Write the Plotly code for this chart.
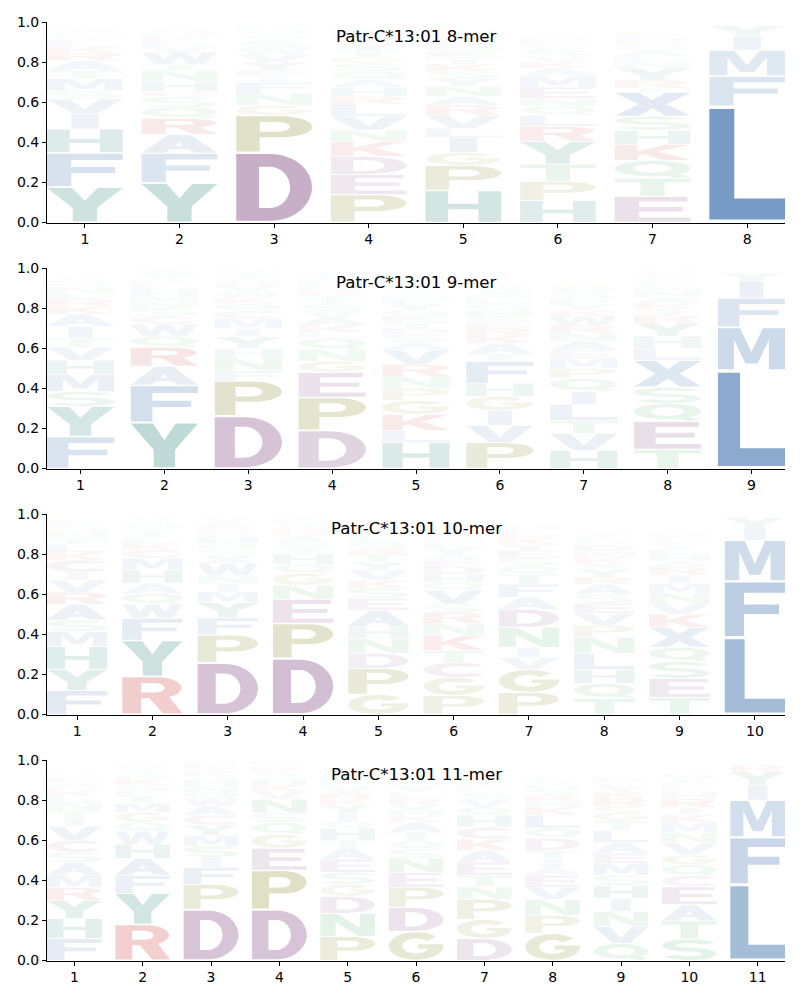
import numpy as np
import plotly.graph_objects as go

# ---------------- data ----------------
TITLES = ["Patr-C*13:01 8-mer", "Patr-C*13:01 9-mer",
          "Patr-C*13:01 10-mer", "Patr-C*13:01 11-mer"]

# letters listed bottom -> top for every position, with their heights
SEQ_8 = ["YFHIVSMTARKLNQWGEPCD", "YFARQSCHNTWVLKMEGI", "DPGNFIEYVWSTAQKRHML",
         "PEDKNVLRHAQSGTYIMFWC", "HPGILVRANYSKTEQDMFWC", "HPTYRLQNEMAKVSFGDWIC",
         "ETQKHSXIRYNLAMGDFP", "LFMIYV"]
H_8 = [[.177, .17, .12, .075, .075, .04, .06, .04, .05, .04, .03, .03, .02, .02, .02, .01, .01, .01, .005, .005],
       [.197, .148, .095, .08, .055, .05, .03, .05, .055, .03, .06, .03, .03, .02, .02, .01, .01, .01],
       [.35, .185, .05, .06, .055, .03, .03, .04, .04, .03, .03, .02, .02, .02, .01, .01, .01, .01, .01],
       [.14, .1, .09, .075, .055, .07, .06, .04, .045, .04, .04, .04, .035, .03, .03, .03, .02, .02, .01, .01],
       [.16, .125, .065, .075, .045, .065, .05, .045, .05, .04, .035, .035, .03, .03, .03, .025, .02, .02, .01, .01],
       [.11, .095, .085, .115, .075, .055, .045, .04, .055, .055, .04, .03, .03, .03, .02, .02, .02, .01, .01, .01],
       [.13, .09, .09, .08, .07, .07, .12, .02, .04, .06, .03, .03, .03, .02, .02, .02, .02, .01],
       [.58, .15, .13, .07, .05, .01]]

SEQ_9 = ["FYSMHVTIAKRLNQECGW", "YFARQWCSNMHLKTVIE", "DPFNHYIMCQKWVRSTEA",
         "DPEGNQLKAVSTYRHMFIW", "HLKGPNRVASDTEQYFMIWC", "PVIGHFTAKRESNQLMYDW",
         "HVTLIQPMEANRWKYFSDGC", "TEQSXLHYRIKANMFGPV", "LMFIYV"]
H_9 = [[.16, .15, .075, .085, .07, .065, .045, .06, .06, .04, .035, .03, .03, .02, .015, .01, .01, .01],
       [.23, .185, .095, .095, .055, .06, .04, .04, .03, .03, .03, .03, .02, .02, .02, .01, .01],
       [.262, .175, .05, .065, .045, .06, .04, .05, .04, .035, .03, .03, .03, .02, .02, .02, .015, .01],
       [.19, .165, .125, .055, .06, .055, .03, .035, .04, .03, .03, .03, .025, .02, .02, .02, .02, .02, .01],
       [.13, .06, .08, .07, .06, .06, .06, .07, .04, .04, .03, .03, .03, .03, .03, .03, .02, .02, .01, .02],
       [.13, .085, .075, .07, .065, .11, .04, .05, .04, .035, .03, .03, .03, .03, .03, .02, .02, .02, .01],
       [.09, .085, .065, .08, .065, .065, .05, .05, .04, .045, .04, .04, .045, .03, .03, .03, .03, .02, .02, .01],
       [.095, .14, .09, .08, .135, .06, .06, .065, .04, .03, .03, .03, .03, .02, .02, .02, .02, .02],
       [.49, .215, .145, .085, .04, .01]]

SEQ_10 = ["FYHMSARVICKLTNQEWGP", "RYFWQAHMCKLTVNIS", "DPFYMINWXSQHEKRAVLT",
          "DPENGQHTSAKRVLYMF", "GPDNHAESKVYTRQLMFIWC", "PGCTKNRSVQHDEAYLMFIW",
          "PGVINDAFTQSEYKRLHM", "TQHLNPVESARYXKMDGFIW", "TESQXKVNMIRAHLYFGDPW", "LFMIYV"]
H_10 = [[.12, .105, .115, .075, .055, .08, .06, .06, .04, .06, .04, .04, .03, .03, .02, .02, .02, .01, .01],
        [.19, .18, .11, .07, .055, .05, .065, .06, .04, .03, .03, .03, .02, .02, .02, .02],
        [.258, .14, .085, .075, .055, .04, .04, .06, .04, .03, .03, .03, .02, .02, .02, .02, .02, .01, .01],
        [.28, .175, .12, .07, .06, .045, .05, .03, .03, .03, .02, .02, .02, .02, .01, .01, .01],
        [.1, .13, .075, .075, .06, .08, .06, .05, .04, .05, .04, .04, .03, .03, .03, .02, .02, .02, .01, .01],
        [.095, .09, .075, .06, .075, .06, .055, .04, .07, .04, .04, .04, .03, .03, .03, .03, .02, .02, .02, .01],
        [.11, .115, .06, .05, .1, .09, .06, .065, .05, .04, .04, .04, .03, .03, .02, .02, .02, .01],
        [.08, .075, .07, .08, .08, .06, .06, .05, .045, .05, .035, .04, .03, .03, .03, .03, .02, .02, .02, .01],
        [.085, .095, .085, .07, .1, .065, .055, .05, .05, .04, .04, .03, .03, .03, .02, .02, .02, .02, .01, .01],
        [.385, .28, .205, .06, .05, .01]]

SEQ_11 = ["FHYRMASCVITNLKQWEGPD", "RYFAHWQGMILSKNTVEC", "DPFISMYCAWQNHVKTERL",
          "DPEGQSNVKHTARYLM", "PNDGSEATHQIYKRVLMFCW", "GDPENSQTAKHVRLYMFICW",
          "DGPNTEAKCHQVSLRYMIFW", "GPNVEAITDQLKMRSHYFW", "QVNIHSMEALTGCRKYFDPW",
          "STAECQGVNMKIRHLFYDPW", "LFMIYR"]
H_11 = [[.11, .1, .09, .065, .06, .065, .05, .06, .07, .04, .04, .04, .03, .03, .02, .02, .02, .01, .01, .01],
        [.18, .155, .09, .085, .07, .065, .045, .05, .045, .03, .03, .03, .03, .02, .02, .02, .01, .01],
        [.255, .125, .085, .05, .055, .055, .05, .05, .045, .04, .03, .03, .03, .02, .02, .02, .02, .01, .01],
        [.255, .195, .11, .07, .06, .045, .07, .04, .03, .03, .02, .02, .02, .01, .01, .01],
        [.12, .115, .085, .06, .06, .065, .055, .04, .06, .035, .04, .04, .03, .03, .03, .02, .02, .02, .01, .01],
        [.145, .12, .1, .075, .07, .045, .04, .045, .05, .03, .03, .03, .03, .03, .03, .02, .02, .02, .01, .01],
        [.11, .095, .1, .065, .055, .065, .06, .055, .06, .06, .04, .04, .03, .02, .02, .02, .02, .02, .01, .01],
        [.135, .09, .08, .06, .06, .04, .04, .045, .06, .05, .065, .04, .03, .03, .03, .02, .02, .02, .01],
        [.085, .085, .075, .065, .065, .05, .06, .05, .055, .06, .045, .045, .03, .04, .03, .03, .02, .02, .01, .01],
        [.108, .09, .08, .09, .055, .055, .05, .06, .05, .05, .04, .035, .045, .03, .03, .02, .02, .02, .01, .01],
        [.38, .235, .185, .075, .065, .035]]

PANELS = [(SEQ_8, H_8), (SEQ_9, H_9), (SEQ_10, H_10), (SEQ_11, H_11)]

# ---------------- styles ----------------
BLUE = (70, 119, 175)
PURPLE = (131, 75, 131)
LAVENDER = (150, 85, 140)
OLIVE = (128, 128, 30)
TEAL = (35, 128, 115)
RED = (200, 50, 50)
GREEN = (60, 170, 90)
COLORS = {}
for c in "AFILMVWX":
    COLORS[c] = BLUE
for c in "DE":
    COLORS[c] = PURPLE
COLORS["C"] = LAVENDER
for c in "PG":
    COLORS[c] = OLIVE
for c in "YH":
    COLORS[c] = TEAL
for c in "RK":
    COLORS[c] = RED
for c in "NQST":
    COLORS[c] = GREEN
ALPHA_K = 1.27


# ---------------- glyph outlines (unit box) ----------------
def arc(cx, cy, rx, ry, a0, a1, n=30):
    t = np.radians(np.linspace(a0, a1, n))
    return [(cx + rx * np.cos(a), cy + ry * np.sin(a)) for a in t]


def sarea(p):
    a = 0.0
    for i in range(len(p)):
        x1, y1 = p[i]
        x2, y2 = p[(i + 1) % len(p)]
        a += x1 * y2 - x2 * y1
    return a / 2


def build_glyphs():
    g = {}
    g["A"] = [([(0, 0), (0.36, 1), (0.64, 1), (1, 0), (0.7, 0), (0.62, 0.2), (0.38, 0.2), (0.3, 0)], False),
              ([(0.44, 0.37), (0.56, 0.37), (0.5, 0.62)], True)]
    g["C"] = [(arc(0.5, 0.5, 0.5, 0.5, 42, 318) + arc(0.5, 0.5, 0.24, 0.27, 318, 42), False)]
    g["G"] = [(arc(0.5, 0.5, 0.5, 0.5, 42, 355) + [(1, 0.56), (0.54, 0.56), (0.54, 0.4), (0.73, 0.4)]
               + arc(0.5, 0.5, 0.25, 0.27, 340, 42), False)]
    g["D"] = [([(0, 0), (0, 1), (0.45, 1)] + arc(0.45, 0.5, 0.55, 0.5, 90, -90) + [(0.45, 0)], False),
              ([(0.3, 0.19), (0.44, 0.19)] + arc(0.44, 0.5, 0.27, 0.31, -90, 90) + [(0.3, 0.81)], True)]
    g["E"] = [([(0, 0), (0, 1), (0.96, 1), (0.96, 0.82), (0.32, 0.82), (0.32, 0.6), (0.9, 0.6), (0.9, 0.42),
                (0.32, 0.42), (0.32, 0.18), (1, 0.18), (1, 0)], False)]
    g["F"] = [([(0, 0), (0, 1), (1, 1), (1, 0.81), (0.32, 0.81), (0.32, 0.59), (0.9, 0.59), (0.9, 0.41),
                (0.32, 0.41), (0.32, 0)], False)]
    g["H"] = [([(0, 0), (0, 1), (0.3, 1), (0.3, 0.59), (0.7, 0.59), (0.7, 1), (1, 1), (1, 0), (0.7, 0),
                (0.7, 0.41), (0.3, 0.41), (0.3, 0)], False)]
    g["I"] = [([(0.32, 0), (0.68, 0), (0.68, 1), (0.32, 1)], False)]
    g["K"] = [([(0, 0), (0, 1), (0.3, 1), (0.3, 0.56), (0.66, 1), (1, 1), (0.58, 0.55), (1, 0), (0.64, 0),
                (0.38, 0.38), (0.3, 0.3), (0.3, 0)], False)]
    g["L"] = [([(0, 0), (0, 1), (0.33, 1), (0.33, 0.19), (1, 0.19), (1, 0)], False)]
    g["M"] = [([(0, 0), (0, 1), (0.33, 1), (0.5, 0.42), (0.67, 1), (1, 1), (1, 0), (0.76, 0), (0.76, 0.72),
                (0.59, 0.14), (0.41, 0.14), (0.24, 0.72), (0.24, 0)], False)]
    g["N"] = [([(0, 0), (0, 1), (0.3, 1), (0.72, 0.38), (0.72, 1), (1, 1), (1, 0), (0.7, 0), (0.28, 0.62),
                (0.28, 0)], False)]
    g["P"] = [([(0, 0), (0, 1), (0.58, 1)] + arc(0.58, 0.7, 0.42, 0.3, 90, -90) + [(0.58, 0.4), (0.31, 0.4), (0.31, 0)], False),
              ([(0.31, 0.56), (0.54, 0.56)] + arc(0.54, 0.7, 0.17, 0.14, -90, 90) + [(0.31, 0.84)], True)]
    g["Q"] = [(arc(0.5, 0.55, 0.5, 0.45, 0, 360, 48), False),
              (arc(0.5, 0.55, 0.25, 0.25, 0, 360, 40), True),
              ([(0.56, 0.22), (0.74, 0.32), (1, 0.06), (0.82, 0.0)], False)]
    g["R"] = [([(0, 0), (0, 1), (0.58, 1)] + arc(0.58, 0.71, 0.4, 0.29, 90, -60) + [(1, 0), (0.68, 0), (0.45, 0.42),
                                                                                   (0.31, 0.42), (0.31, 0)], False),
              ([(0.31, 0.58), (0.54, 0.58)] + arc(0.54, 0.71, 0.16, 0.13, -90, 90) + [(0.31, 0.84)], True)]
    dx, dy = 0.125, 0.09
    ry = (0.5 - dy) / 2
    rx = 0.5 - dx
    ct, cb = 0.5 + ry, 0.5 - ry
    s = (arc(0.5, ct, rx + dx, ry + dy, 25, 270) + arc(0.5, cb, rx - dx, ry - dy, 90, -155)
         + arc(0.5, cb, rx + dx, ry + dy, -155, 90) + arc(0.5, ct, rx - dx, ry - dy, 270, 25))
    g["S"] = [(s, False)]
    g["T"] = [([(0, 1), (1, 1), (1, 0.8), (0.66, 0.8), (0.66, 0), (0.34, 0), (0.34, 0.8), (0, 0.8)], False)]
    g["V"] = [([(0, 1), (0.3, 1), (0.5, 0.3), (0.7, 1), (1, 1), (0.66, 0), (0.34, 0)], False)]
    g["W"] = [([(0, 1), (0.2, 1), (0.29, 0.38), (0.4, 1), (0.6, 1), (0.71, 0.38), (0.8, 1), (1, 1), (0.83, 0),
                (0.61, 0), (0.5, 0.58), (0.39, 0), (0.17, 0)], False)]
    g["X"] = [([(0, 1), (0.32, 1), (0.5, 0.68), (0.68, 1), (1, 1), (0.68, 0.5), (1, 0), (0.68, 0), (0.5, 0.32),
                (0.32, 0), (0, 0), (0.32, 0.5)], False)]
    g["Y"] = [([(0, 1), (0.33, 1), (0.5, 0.62), (0.67, 1), (1, 1), (0.66, 0.4), (0.66, 0), (0.34, 0), (0.34, 0.4)], False)]

    out = {}
    for k, parts in g.items():
        pts = [p for poly, _ in parts for p in poly]
        xs = [p[0] for p in pts]
        ys = [p[1] for p in pts]
        x0, x1, y0, y1 = min(xs), max(xs), min(ys), max(ys)
        if k == "I":
            x0, x1 = 0.0, 1.0
        polys = []
        for poly, hole in parts:
            q = [((x - x0) / (x1 - x0), (y - y0) / (y1 - y0)) for x, y in poly]
            a = sarea(q)
            if (a > 0) == hole:
                q = q[::-1]
            polys.append(q)
        out[k] = polys
    return out


GLYPHS = build_glyphs()

# ---------------- layout geometry ----------------
# the page body adds an 8px margin, compensated here
W, H = 792, 984
ML, MR, MT, MB = 39, 15, 14, 31
PH = H - MT - MB
PANEL_TOPS = [14, 260, 506, 752]
PANEL_H = 200.5

fig = go.Figure()
shapes = []
annotations = []
layout_axes = {}

for k, (seqs, heights) in enumerate(PANELS):
    idx = "" if k == 0 else str(k + 1)
    xref, yref = "x" + idx, "y" + idx
    n = len(seqs)
    top = PANEL_TOPS[k]
    dom = [1 - (top + PANEL_H - MT) / PH, 1 - (top - MT) / PH]

    fig.add_trace(go.Scatter(x=[None], y=[None], xaxis=xref, yaxis=yref,
                             showlegend=False, hoverinfo="skip"))

    for i, (letters, hs) in enumerate(zip(seqs, heights)):
        assert len(letters) == len(hs), (k, i)
        pos = i + 1
        y0 = 0.0
        for ch, h in zip(letters, hs):
            pad = 0.025 * h
            ylo, hh = y0 + pad, h - 2 * pad
            xl, wd = pos - 0.4, 0.8
            path = ""
            for poly in GLYPHS[ch]:
                path += "M" + "L".join(f"{xl + wd * gx:.4f},{ylo + hh * gy:.4f}" for gx, gy in poly) + "Z"
            r, g_, b = COLORS[ch]
            a = min(1.0, ALPHA_K * h)
            shapes.append(dict(type="path", path=path, xref=xref, yref=yref,
                               fillcolor=f"rgba({r},{g_},{b},{a:.3f})",
                               line=dict(width=0), fillrule="nonzero", layer="above"))
            y0 += h

    axis_common = dict(showgrid=False, zeroline=False, showline=True, linecolor="black",
                       linewidth=1.1, ticks="outside", ticklen=4, tickwidth=1.1, tickcolor="black",
                       tickfont=dict(family="DejaVu Sans", size=14, color="black"))
    layout_axes["xaxis" + idx] = dict(axis_common, domain=[0, 1], anchor=yref, range=[0.6, n + 0.4],
                                      tickmode="array", tickvals=list(range(1, n + 1)),
                                      ticktext=[str(v) for v in range(1, n + 1)])
    layout_axes["yaxis" + idx] = dict(axis_common, domain=dom, anchor=xref, range=[0, 1],
                                      tickmode="array", tickvals=[0, 0.2, 0.4, 0.6, 0.8, 1.0],
                                      ticktext=["0.0", "0.2", "0.4", "0.6", "0.8", "1.0"])
    annotations.append(dict(text=TITLES[k], xref="paper", yref="paper", x=0.5,
                            y=1 - (top + 14 - MT) / PH, xanchor="center", yanchor="middle",
                            showarrow=False, font=dict(family="DejaVu Sans", size=16.6, color="black")))

fig.update_layout(width=W, height=H, margin=dict(l=ML, r=MR, t=MT, b=MB, autoexpand=False),
                  plot_bgcolor="white", paper_bgcolor="white",
                  shapes=shapes, annotations=annotations, showlegend=False, **layout_axes)
fig.write_html("out.html")
